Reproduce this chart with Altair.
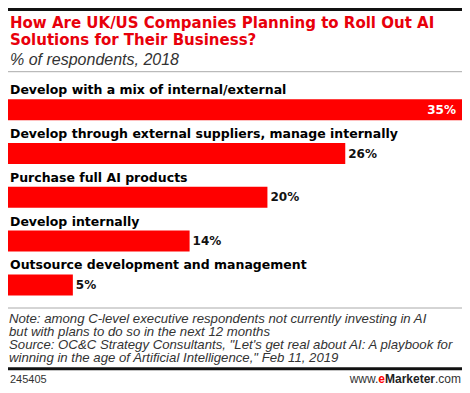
import altair as alt
import pandas as pd

categories = [
    "Develop with a mix of internal/external",
    "Develop through external suppliers, manage internally",
    "Purchase full AI products",
    "Develop internally",
    "Outsource development and management",
]
values = [35, 26, 20, 14, 5]

title_lines = ["How Are UK/US Companies Planning to Roll Out AI",
               "Solutions for Their Business?"]
subtitle = "% of respondents, 2018"
note_lines = [
    "Note: among C-level executive respondents not currently investing in AI",
    "but with plans to do so in the next 12 months",
    "Source: OC&C Strategy Consultants, \"Let's get real about AI: A playbook for",
    "winning in the age of Artificial Intelligence,\" Feb 11, 2019",
]
chart_id = "245405"
logo_parts = ["www.", "e", "Marketer", ".com"]

W, H = 454, 377
RED = "#ff0000"

df = pd.DataFrame({"category": categories, "value": values})
dummy = pd.DataFrame({"a": [0]})

x_scale = alt.Scale(domain=[0, 35], range=[0, W])
y_scale = alt.Scale(domain=categories, range=[91.2, 287.4], paddingInner=0.52, paddingOuter=0)

base = alt.Chart(df).transform_calculate(label="datum.value + '%'")

bars = base.mark_bar(color=RED, cornerRadius=0).encode(
    x=alt.X("value:Q", scale=x_scale, axis=None),
    y=alt.Y("category:N", scale=y_scale, axis=None, sort=categories),
)

cat_labels = base.mark_text(
    align="left", baseline="alphabetic", dy=-15.5, font="DejaVu Sans",
    fontWeight="bold", fontSize=12.5, color="#000000"
).encode(
    x=alt.value(2),
    y=alt.Y("category:N", scale=y_scale, axis=None, sort=categories),
    text="category:N",
)

val_in = base.transform_filter("datum.value >= 30").mark_text(
    align="right", baseline="middle", dx=-6, font="DejaVu Sans",
    fontWeight="bold", fontSize=12, color="#ffffff"
).encode(
    x=alt.X("value:Q", scale=x_scale, axis=None),
    y=alt.Y("category:N", scale=y_scale, axis=None, sort=categories),
    text="label:N",
)

val_out = base.transform_filter("datum.value < 30").mark_text(
    align="left", baseline="middle", dx=3, font="DejaVu Sans",
    fontWeight="bold", fontSize=12, color="#111111"
).encode(
    x=alt.X("value:Q", scale=x_scale, axis=None),
    y=alt.Y("category:N", scale=y_scale, axis=None, sort=categories),
    text="label:N",
)


def rule(y, color, width):
    return alt.Chart(dummy).mark_rule(color=color, strokeWidth=width).encode(
        x=alt.value(0), x2=alt.value(W), y=alt.value(y)
    )


def text(t, x, y, **kw):
    return alt.Chart(dummy).mark_text(**kw).encode(
        x=alt.value(x), y=alt.value(y), text=alt.value(t)
    )


title = text(title_lines, 2, 19.7, align="left", baseline="alphabetic",
             font="DejaVu Sans", fontWeight="bold", fontSize=15,
             lineHeight=17.3, color="#e8000b")
sub = text(subtitle, 2, 56.8, align="left", baseline="alphabetic",
           font="Liberation Sans", fontStyle="italic", fontSize=16, color="#333333")
notes = text(note_lines, 1, 314.9, align="left", baseline="alphabetic",
             font="Liberation Sans", fontStyle="italic", fontSize=13.2,
             lineHeight=13.2, color="#333333")
cid = text(chart_id, 2, 375, align="left", baseline="alphabetic",
           font="Liberation Sans", fontSize=11, color="#333333")

logo_font = 12
l_com = text(logo_parts[3], W - 1, 375, align="right", baseline="alphabetic",
             font="Liberation Sans", fontSize=logo_font, color="#333333")
l_mk = text(logo_parts[2], W - 1 - 26, 375, align="right", baseline="alphabetic",
            font="Liberation Sans", fontWeight="bold", fontSize=logo_font, color="#222222")
l_e = text(logo_parts[1], W - 1 - 26 - 50, 375, align="right", baseline="alphabetic",
           font="Liberation Sans", fontWeight="bold", fontSize=logo_font, color=RED)
l_www = text(logo_parts[0], W - 1 - 26 - 50 - 6.7, 375, align="right", baseline="alphabetic",
             font="Liberation Sans", fontSize=logo_font, color="#333333")

chart = alt.layer(
    rule(1.5, "#111111", 3),
    title, sub,
    rule(63.7, "#aaaaaa", 1),
    bars, cat_labels, val_in, val_out,
    rule(300, "#aaaaaa", 1),
    notes,
    rule(360.7, "#111111", 3),
    cid, l_www, l_e, l_mk, l_com,
).properties(
    width=W, height=H,
    autosize=alt.AutoSizeParams(type="none"),
    padding=0,
).configure_view(stroke=None)

chart.save("out.html", embed_options={"renderer": "svg", "actions": False})
